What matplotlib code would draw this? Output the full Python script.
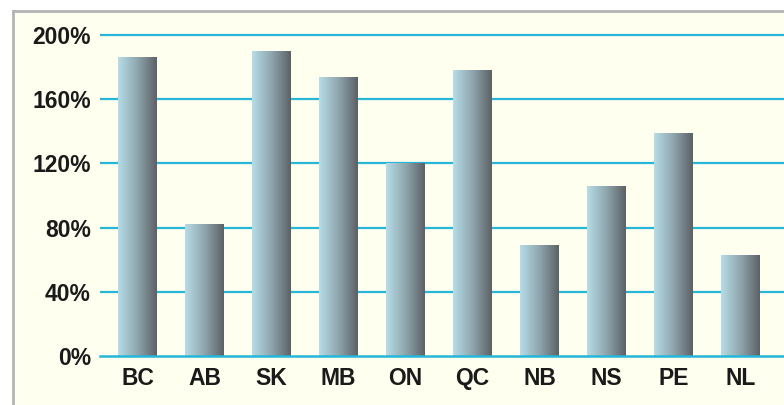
import numpy as np
import matplotlib.pyplot as plt
from matplotlib.patches import Rectangle
from matplotlib.colors import LinearSegmentedColormap

# Provinces and percentage values
provinces = ['BC', 'AB', 'SK', 'MB', 'ON', 'QC', 'NB', 'NS', 'PE', 'NL']
values = [186, 82, 190, 174, 120, 178, 69, 106, 139, 63]
yticks = [0, 40, 80, 120, 160, 200]
ytick_labels = ['0%', '40%', '80%', '120%', '160%', '200%']

cream = '#FFFFF0'
cyan = '#25B6D8'
grad = LinearSegmentedColormap.from_list('bar', ['#B6DDE8', '#8FA6AE', '#5C6165'])

fig = plt.figure(figsize=(7.84, 4.05), dpi=100)
fig.patch.set_facecolor('white')

# cream panel with grey frame on left and top
fig.patches.append(Rectangle((14 / 784, 0), 1, 1 - 12 / 405, transform=fig.transFigure,
                             facecolor=cream, edgecolor='none', zorder=-10))
fig.lines.append(plt.Line2D([13 / 784, 13 / 784], [0, 1 - 11 / 405], transform=fig.transFigure,
                            color='#B4B4B4', lw=2, zorder=-5))
fig.lines.append(plt.Line2D([13 / 784, 1], [1 - 11 / 405, 1 - 11 / 405], transform=fig.transFigure,
                            color='#B4B4B4', lw=2, zorder=-5))

ax = fig.add_axes([100 / 784, 49 / 405, 684 / 784, 329 / 405])
ax.set_facecolor('none')

for y in yticks[1:]:
    ax.axhline(y, color=cyan, lw=1.6, zorder=1)
# baseline drawn over the bars
ax.axhline(0, color=cyan, lw=1.8, zorder=5, clip_on=False)

x = np.arange(len(provinces))
bars = ax.bar(x, values, width=0.57, color='none', edgecolor='none', zorder=2)
g = np.linspace(0, 1, 256).reshape(1, -1)
for b in bars:
    x0, w, h = b.get_x(), b.get_width(), b.get_height()
    im = ax.imshow(g, cmap=grad, aspect='auto', extent=[x0, x0 + w, 0, h], zorder=2)
    im.set_clip_path(b)
ax.set_xlim(-0.56, 9.65)
ax.set_ylim(0, 205)

ax.set_xticks(x)
ax.set_xticklabels(provinces)
ax.set_yticks(yticks)
ax.set_yticklabels(ytick_labels)
for lab in ax.get_xticklabels() + ax.get_yticklabels():
    lab.set_family('Liberation Sans')
    lab.set_fontweight('bold')
    lab.set_fontsize(16.5)
    lab.set_color('#1A1A1A')
ax.tick_params(axis='x', length=0, pad=8)
ax.tick_params(axis='y', length=0, pad=6.5)
for s in ax.spines.values():
    s.set_visible(False)

fig.savefig('out.png', dpi=100, facecolor=fig.get_facecolor())
